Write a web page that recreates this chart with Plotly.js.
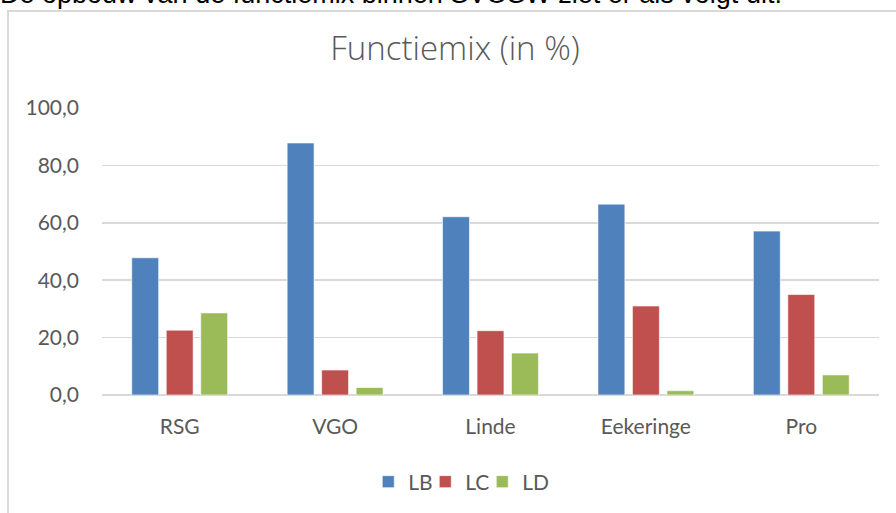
<!DOCTYPE html>
<html>
<head>
<meta charset="utf-8">
<script src="https://cdn.plot.ly/plotly-3.0.1.min.js"></script>
<style>
  html, body { margin: 0; padding: 0; background: #ffffff; width: 896px; height: 513px; overflow: hidden; position: relative; }
  #heading { position: absolute; left: 0px; top: -19px; font-family: "Liberation Sans", Arial, sans-serif; font-size: 27px; line-height: 27px; color: #000; white-space: nowrap; }
  #frame { position: absolute; left: 7px; top: 10px; width: 920px; height: 540px; border: 1px solid #d9d9d9; border-width: 2px 0 0 2px; box-sizing: border-box; }
  #chart { position: absolute; left: 0; top: 0; width: 896px; height: 513px; }
</style>
</head>
<body>
<div id="heading">De opbouw van de functiemix binnen SVOSW ziet er als volgt uit:</div>
<div id="frame"></div>
<div id="chart"></div>
<script>
const categories = ["RSG", "VGO", "Linde", "Eekeringe", "Pro"];
const seriesNames = ["LB", "LC", "LD"];
const valuesLB = [47.8, 87.8, 62.1, 66.5, 57.1];
const valuesLC = [22.6, 8.7, 22.4, 31.0, 35.0];
const valuesLD = [28.6, 2.6, 14.6, 1.5, 7.0];
const colors = ["#4f81bd", "#c0504d", "#9bbb59"];
const allValues = [valuesLB, valuesLC, valuesLD];
const legendWidths = [12, 12, 30];

const traces = seriesNames.map((name, i) => ({
  type: "bar",
  name: name,
  x: categories,
  y: allValues[i],
  legendwidth: legendWidths[i],
  marker: { color: colors[i], line: { color: "#ffffff", width: 0.6 } },
  hoverinfo: "x+y+name"
}));

const layout = {
  width: 896,
  height: 513,
  paper_bgcolor: "rgba(0,0,0,0)",
  plot_bgcolor: "rgba(0,0,0,0)",
  separators: ",.",
  margin: { l: 102, r: 17, t: 108, b: 117, pad: 0 },
  font: { family: "Lato, 'Open Sans', sans-serif", color: "#595959", size: 21 },
  title: {
    text: "Functiemix (in %)",
    font: { family: "'Open Sans', Lato, sans-serif", size: 33, color: "#595959", weight: 300 },
    x: 455 / 896, xanchor: "center", y: 1 - 48 / 513, yanchor: "middle"
  },
  barmode: "group",
  bargap: 0.334,
  bargroupgap: 0.22,
  showlegend: true,
  legend: {
    orientation: "h", x: 0.4643, xanchor: "center", y: -0.2986, yanchor: "middle",
    font: { size: 21, color: "#595959" }, itemwidth: 30, traceorder: "normal",
    entrywidthmode: "pixels"
  },
  xaxis: {
    showgrid: false, showline: false, zeroline: false, ticks: "",
    ticklabelstandoff: 17,
    tickfont: { size: 21, color: "#595959" }, fixedrange: true
  },
  yaxis: {
    range: [0, 100], tick0: 0, dtick: 20, tickformat: ".1f",
    showgrid: true, gridcolor: "#d9d9d9", gridwidth: 1.5,
    zeroline: true, zerolinecolor: "#d9d9d9", zerolinewidth: 1.5,
    showline: false, ticks: "", ticklabelstandoff: 22,
    tickfont: { size: 21, color: "#595959" }, fixedrange: true
  }
};

Plotly.newPlot("chart", traces, layout, { displayModeBar: false, staticPlot: true });
</script>
</body>
</html>
